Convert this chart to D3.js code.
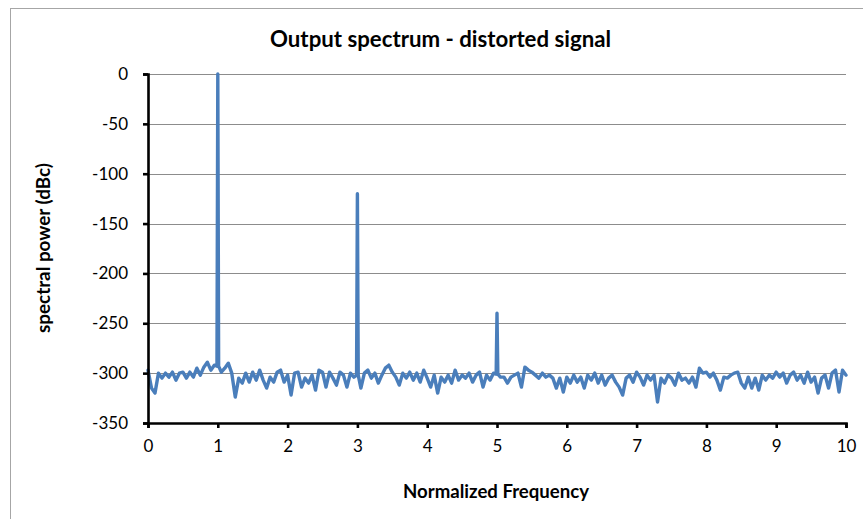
<!DOCTYPE html>
<html><head><meta charset="utf-8">
<script src="https://cdn.jsdelivr.net/npm/d3@7"></script>
<style>
html,body{margin:0;padding:0;background:#fff;}
svg{display:block;}
text{font-family:Lato,"Open Sans",sans-serif;fill:#000;}
</style></head>
<body>
<svg id="chart" width="863" height="519"></svg>
<script>
// ---- data ----
const title = "Output spectrum - distorted signal";
const xLabel = "Normalized Frequency";
const yLabel = "spectral power (dBc)";
const xTicks = [0,1,2,3,4,5,6,7,8,9,10];
const yTicks = [0,-50,-100,-150,-200,-250,-300,-350];
const freqStep = 0.05;
// noise floor sampled every 0.05 from 0 to 10
const noise = [
-297,-315,-320,-300,-305,-300,-304,-299,-307,-300,
-299,-305,-299,-304,-295,-302,-294,-289,-297,-292,
-293,-299,-295,-290,-300,-324,-305,-310,-300,-309,
-299,-307,-297,-307,-315,-304,-309,-299,-297,-309,
-302,-322,-300,-299,-314,-305,-310,-302,-317,-297,
-299,-314,-299,-305,-312,-299,-302,-314,-300,-304,
-302,-315,-300,-297,-305,-300,-310,-302,-295,-292,
-299,-304,-312,-300,-305,-299,-307,-300,-309,-297,
-305,-314,-302,-320,-304,-309,-302,-310,-297,-307,
-302,-305,-300,-309,-302,-299,-314,-302,-307,-300,
-301,-304,-304,-310,-304,-302,-300,-314,-294,-297,
-299,-302,-305,-300,-304,-302,-305,-315,-305,-319,
-304,-310,-302,-309,-304,-315,-302,-307,-300,-310,
-302,-312,-305,-302,-309,-314,-322,-305,-302,-309,
-299,-304,-312,-302,-307,-302,-329,-305,-310,-302,
-305,-312,-300,-307,-305,-310,-304,-314,-295,-300,
-299,-304,-300,-307,-317,-304,-305,-302,-300,-299,
-310,-315,-304,-315,-305,-317,-302,-307,-302,-305,
-299,-304,-300,-310,-302,-299,-307,-302,-310,-299,
-309,-304,-320,-305,-302,-315,-300,-297,-319,-297,
-302
];
// harmonic peaks
const peakFreqs = [1, 3, 5];
const peakPowers = [0, -120, -240];

// ---- build series ----
const series = [];
noise.forEach((v, i) => {
  const f = +(i * freqStep).toFixed(2);
  const k = peakFreqs.indexOf(f);
  if (k >= 0) {
    series.push([f - 0.012, v]);
    series.push([f, peakPowers[k]]);
    series.push([f + 0.012, v]);
  } else {
    series.push([f, v]);
  }
});

const svg = d3.select("#chart");
// outer chart border
svg.append("rect").attr("x",10.5).attr("y",8.5).attr("width",900).attr("height",600)
  .attr("fill","none").attr("stroke","#a6a6a6").attr("stroke-width",1);

const x = d3.scaleLinear().domain([0,10]).range([148,846]);
const y = d3.scaleLinear().domain([-350,0]).range([423,74]);

// gridlines
svg.append("g").selectAll("line").data(yTicks.filter(d=>d>-350)).join("line")
  .attr("x1",x(0)).attr("x2",x(10))
  .attr("y1",d=>Math.round(y(d))+0.5).attr("y2",d=>Math.round(y(d))+0.5)
  .attr("stroke","#8c8c8c").attr("stroke-width",1.2);

// data line
const line = d3.line().x(d=>x(d[0])).y(d=>y(d[1]));
svg.append("path").datum(series).attr("d",line)
  .attr("fill","none").attr("stroke","#4a7ebb").attr("stroke-width",3.4)
  .attr("stroke-linejoin","round").attr("stroke-linecap","round");

// axes
const fmt = d => String(d);
const yAxis = d3.axisLeft(y).tickValues(yTicks).tickSize(5).tickPadding(10).tickFormat(fmt);
const gy = svg.append("g").attr("transform",`translate(${x(0)},0)`).call(yAxis);
const xAxis = d3.axisBottom(x).tickValues(xTicks).tickSize(5).tickPadding(12).tickFormat(fmt);
const gx = svg.append("g").attr("transform",`translate(0,${y(-350)})`).call(xAxis);
[gx,gy].forEach(g=>{
  g.select(".domain").attr("stroke","#000").attr("stroke-width",2.6);
  g.selectAll(".tick line").attr("stroke","#000").attr("stroke-width",2.6);
  g.selectAll(".tick text").style("font-family","Lato, 'Open Sans', sans-serif").style("font-size","17px").attr("fill","#000");
});
gy.selectAll(".tick text").attr("x",-20);
gx.selectAll(".tick text").attr("dy","0.71em");

// helper to fit text width
function fit(t, target){
  const w = t.node().getComputedTextLength();
  const fs = parseFloat(t.style("font-size"));
  t.style("font-size", (fs*target/w).toFixed(2)+"px");
}

const tt = svg.append("text").attr("x",440.5).attr("y",47).attr("text-anchor","middle")
  .style("font-weight","bold").style("font-size","20px").text(title);
fit(tt, 341);

const xl = svg.append("text").attr("x",496).attr("y",498).attr("text-anchor","middle")
  .style("font-weight","bold").style("font-size","14px").text(xLabel);
fit(xl, 186);

const yl = svg.append("text").attr("transform","translate(50,248) rotate(-90)").attr("text-anchor","middle")
  .style("font-weight","bold").style("font-size","14px").text(yLabel);
fit(yl, 170);
</script>
</body></html>
